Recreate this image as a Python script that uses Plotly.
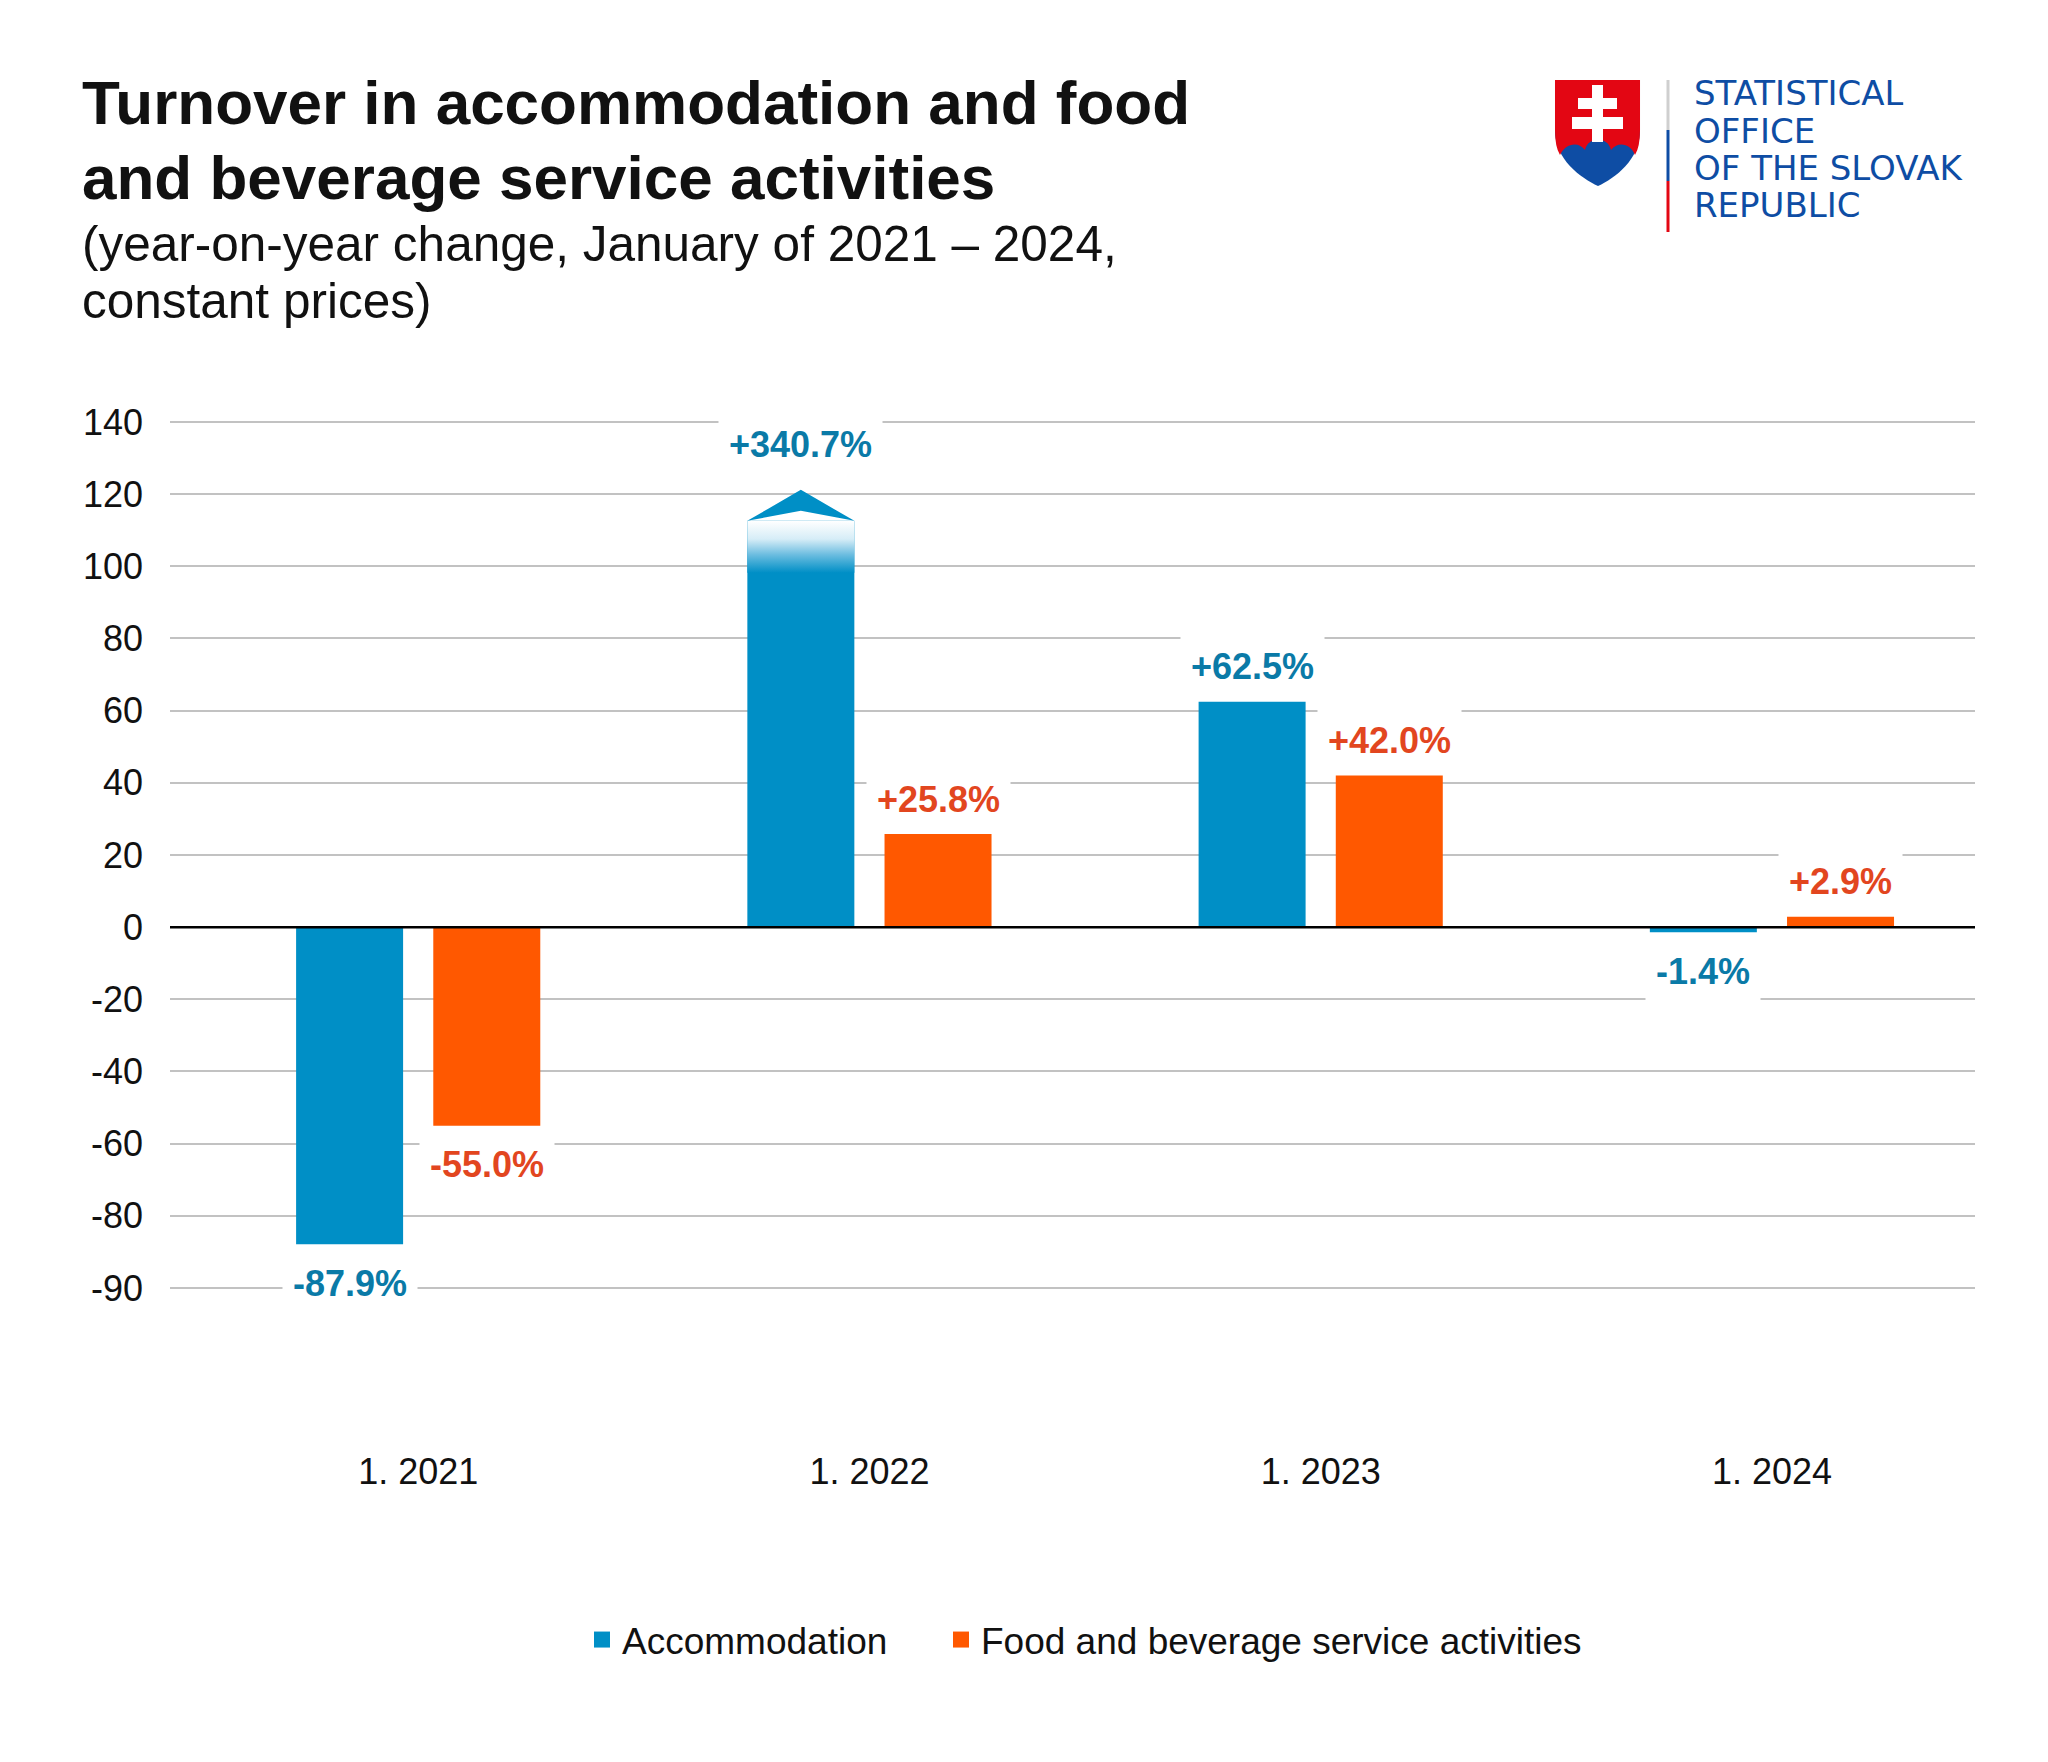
import plotly.graph_objects as go

W, H = 2048, 1762

# ---------------- data ----------------
CATEGORIES = ["1. 2021", "1. 2022", "1. 2023", "1. 2024"]
ACCOMMODATION = [-87.9, 340.7, 62.5, -1.4]
FOOD_BEVERAGE = [-55.0, 25.8, 42.0, 2.9]
SERIES_NAMES = ["Accommodation", "Food and beverage service activities"]
Y_TICK_VALUES = [140, 120, 100, 80, 60, 40, 20, 0, -20, -40, -60, -80, -100]
Y_TICK_LABELS = ["140", "120", "100", "80", "60", "40", "20", "0",
                 "-20", "-40", "-60", "-80", "-90"]

TITLE_LINES = ["Turnover in accommodation and food",
               "and beverage service activities"]
SUBTITLE_LINES = ["(year-on-year change, January of 2021 – 2024,",
                  "constant prices)"]
LOGO_LINES = ["STATISTICAL", "OFFICE", "OF THE SLOVAK", "REPUBLIC"]

# axis break used for values beyond the visible range
BREAK_SOLID = 98.2
BREAK_TOP = 112.6
ARROW_TIP = 121.2
ARROW_NOTCH = 115.4

# ---------------- style ----------------
BLUE = "#008fc6"
ORANGE = "#ff5800"
BLUE_LABEL = "#0a7aa7"
ORANGE_LABEL = "#e2461f"
LOGO_BLUE = "#0e4da4"
LOGO_RED = "#e30613"
FONT = "Liberation Sans, Arial, sans-serif"

BARGAP = 0.392
GROUPGAP = 0.22
SLOT = (1 - BARGAP) / 2
OFF = SLOT / 2
HW = SLOT * (1 - GROUPGAP) / 2

Y_RANGE = [-100.5, 140.5]
PX_PER_UNIT = (1288 - 422) / 240.0
BODY = 8  # page margin around the figure


def px(x):
    return (x - BODY) / W


def py(y):
    return 1 - (y - BODY) / H


idx = list(range(len(CATEGORIES)))
fig = go.Figure()

disp_acc = [min(v, BREAK_TOP) for v in ACCOMMODATION]
disp_food = [min(v, BREAK_TOP) for v in FOOD_BEVERAGE]

fig.add_bar(x=idx, y=disp_acc, name=SERIES_NAMES[0], marker=dict(color=BLUE, line_width=0),
            showlegend=False, hoverinfo="skip")
fig.add_bar(x=idx, y=disp_food, name=SERIES_NAMES[1], marker=dict(color=ORANGE, line_width=0),
            showlegend=False, hoverinfo="skip")

# broken bars: gradient fade + arrow
for series, sign, color in ((ACCOMMODATION, -1, BLUE), (FOOD_BEVERAGE, 1, ORANGE)):
    for i, v in zip(idx, series):
        if v > BREAK_TOP:
            xc = i + sign * OFF
            fig.add_scatter(
                x=[xc - HW, xc + HW, xc + HW, xc - HW, xc - HW],
                y=[BREAK_SOLID, BREAK_SOLID, BREAK_TOP, BREAK_TOP, BREAK_SOLID],
                mode="lines", fill="toself", line=dict(width=0, color="rgba(0,0,0,0)"),
                fillgradient=dict(type="vertical", start=BREAK_SOLID, stop=BREAK_TOP,
                                  colorscale=[[0, color], [0.35, "#6cbde0"],
                                              [0.65, "#d6edf7"], [1, "#ffffff"]]),
                showlegend=False, hoverinfo="skip")
            fig.add_scatter(
                x=[xc - HW, xc, xc + HW, xc, xc - HW],
                y=[BREAK_TOP, ARROW_TIP, BREAK_TOP, ARROW_NOTCH, BREAK_TOP],
                mode="lines", fill="toself", fillcolor=color,
                line=dict(width=0, color=color),
                showlegend=False, hoverinfo="skip")

# legend entries (two legends so the spacing can follow the original)
for name, color, lg in zip(SERIES_NAMES, (BLUE, ORANGE), ("legend", "legend2")):
    fig.add_scatter(x=[None], y=[None], mode="markers", name=name, legend=lg,
                    marker=dict(symbol="square", size=22, color=color))

annotations = []
# value labels
for series, sign, lcolor in ((ACCOMMODATION, -1, BLUE_LABEL), (FOOD_BEVERAGE, 1, ORANGE_LABEL)):
    for i, v in zip(idx, series):
        if v > BREAK_TOP:
            yv, ys = ARROW_TIP, 45
        elif v >= 0:
            yv, ys = v, 35
        else:
            yv, ys = v, -39
        annotations.append(dict(
            x=i + sign * OFF, y=yv, xref="x", yref="y", yshift=ys,
            text=f"<b>{v:+.1f}%</b>", showarrow=False, xanchor="center", yanchor="middle",
            font=dict(family=FONT, size=36, color=lcolor),
            bgcolor="white", borderpad=10))

# title and subtitle
for text, yc in zip(TITLE_LINES, (103, 177)):
    annotations.append(dict(x=px(80), y=py(yc), xref="paper", yref="paper",
                            text=f"<b>{text}</b>", showarrow=False,
                            xanchor="left", yanchor="middle",
                            font=dict(family=FONT, size=62, color="#111111")))
for text, yc in zip(SUBTITLE_LINES, (244, 300)):
    annotations.append(dict(x=px(80), y=py(yc), xref="paper", yref="paper",
                            text=text, showarrow=False,
                            xanchor="left", yanchor="middle",
                            font=dict(family=FONT, size=49.5, color="#111111")))
# logo text
for text, yc in zip(LOGO_LINES, (93, 131, 168, 205)):
    annotations.append(dict(x=px(1692), y=py(yc), xref="paper", yref="paper",
                            text=text, showarrow=False, align="left",
                            xanchor="left", yanchor="middle", height=36,
                            font=dict(family="DejaVu Sans, sans-serif", size=34,
                                      color=LOGO_BLUE)))


def path(cmds):
    out = []
    for c in cmds:
        op, nums = c[0], c[1:]
        pts = []
        for k in range(0, len(nums), 2):
            pts.append(f"{px(nums[k]):.5f},{py(nums[k + 1]):.5f}")
        out.append(op + " ".join(pts))
    return " ".join(out)


shapes = []
# shield (blue base, red top, white cross)
shapes.append(dict(type="path", xref="paper", yref="paper", layer="above",
                   path=path([("M", 1555, 80), ("L", 1640, 80), ("L", 1640, 130),
                              ("C", 1640, 160, 1615, 178, 1598, 186),
                              ("C", 1581, 178, 1555, 160, 1555, 130), ("Z",)]),
                   fillcolor=LOGO_BLUE, line=dict(width=0)))
shapes.append(dict(type="path", xref="paper", yref="paper", layer="above",
                   path=path([("M", 1555, 80), ("L", 1640, 80), ("L", 1640, 130),
                              ("Q", 1640, 147, 1635, 155),
                              ("C", 1631, 143, 1617, 141, 1611, 150),
                              ("C", 1608, 136, 1588, 136, 1585, 150),
                              ("C", 1579, 141, 1565, 143, 1560, 155),
                              ("Q", 1555, 147, 1555, 130), ("Z",)]),
                   fillcolor=LOGO_RED, line=dict(width=0)))
for x0, y0, x1, y1 in ((1592, 85, 1603, 142), (1578, 98, 1617, 109), (1572, 117, 1623, 129)):
    shapes.append(dict(type="rect", xref="paper", yref="paper", layer="above",
                       x0=px(x0), x1=px(x1), y0=py(y0), y1=py(y1),
                       fillcolor="white", line=dict(width=0)))
# divider
for y0, y1, col in ((80, 130, "#cfcfcf"), (130, 181, LOGO_BLUE), (181, 232, LOGO_RED)):
    shapes.append(dict(type="line", xref="paper", yref="paper",
                       x0=px(1668), x1=px(1668), y0=py(y0), y1=py(y1),
                       line=dict(color=col, width=3)))
# zero line above bars
shapes.append(dict(type="line", xref="paper", yref="y", x0=px(170), x1=px(1975),
                   y0=0, y1=0, layer="above", line=dict(color="#000000", width=2.5)))

y_top_px = 422 - (Y_RANGE[1] - 140) * PX_PER_UNIT
y_bot_px = 1288 + (-100 - Y_RANGE[0]) * PX_PER_UNIT

legend_style = dict(orientation="h", xanchor="left", y=py(1640), yanchor="middle",
                    font=dict(family=FONT, size=37, color="#111111"),
                    itemsizing="trace", bgcolor="rgba(0,0,0,0)", borderwidth=0)

fig.update_layout(
    template="none",
    width=W, height=H,
    margin=dict(l=0, r=0, t=0, b=0, autoexpand=False),
    paper_bgcolor="white", plot_bgcolor="white",
    barmode="group", bargap=BARGAP, bargroupgap=GROUPGAP,
    font=dict(family=FONT, color="#111111"),
    annotations=annotations, shapes=shapes,
    showlegend=True,
    legend=dict(x=px(582), **legend_style),
    legend2=dict(x=px(941), **legend_style),
    xaxis=dict(domain=[px(170), px(1975)], range=[-0.55, 3.45], automargin=False,
               tickvals=idx, ticktext=CATEGORIES, showgrid=False, zeroline=False,
               showline=False, ticks="", tickfont=dict(size=36, color="#111111"),
               ticklabelstandoff=157, fixedrange=True),
    yaxis=dict(domain=[py(y_bot_px), py(y_top_px)], range=Y_RANGE, automargin=False,
               tickvals=Y_TICK_VALUES, ticktext=Y_TICK_LABELS,
               showgrid=True, gridcolor="#c2c2c2", gridwidth=1.5,
               zeroline=False, showline=False, ticks="",
               tickfont=dict(size=36, color="#111111"),
               ticklabelstandoff=26, fixedrange=True),
)

fig.write_html("out.html")
